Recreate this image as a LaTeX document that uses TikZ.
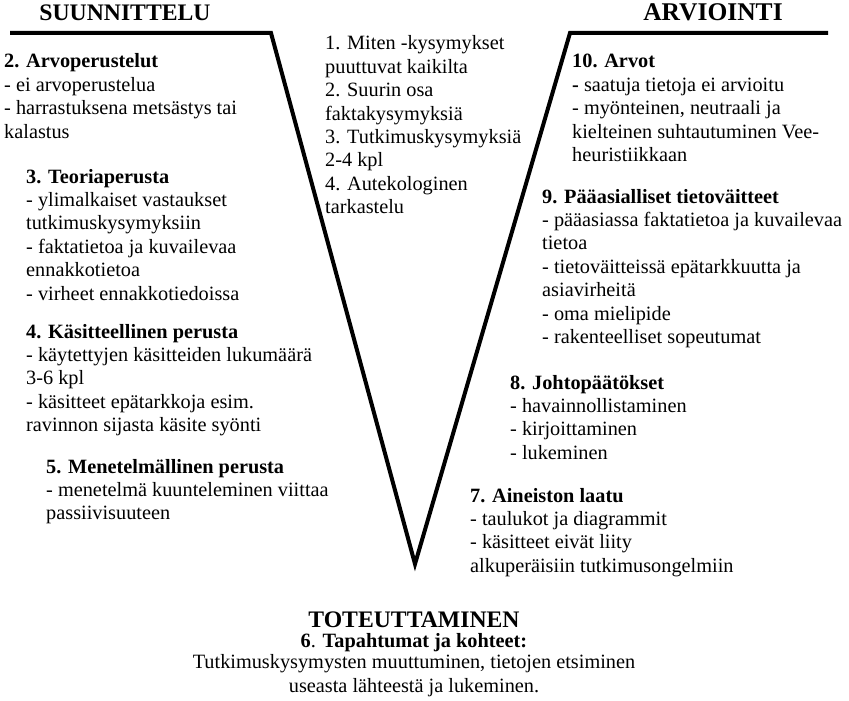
\documentclass[tikz,border=0pt]{standalone}
\usepackage{fontspec}
\setmainfont{Liberation Serif}
% a block of lines whose baseline is that of its first line
\newcommand{\leftblock}[1]{\begin{tabular}[t]{@{}l@{}}#1\end{tabular}}
\newcommand{\midblock}[1]{\begin{tabular}[t]{@{}c@{}}#1\end{tabular}}
\begin{document}
\begin{tikzpicture}[x=1pt,y=-1pt,
  body/.style={anchor=base west, inner sep=0pt,
    font=\fontsize{20.3}{23.4}\selectfont},
  bodyc/.style={anchor=base, inner sep=0pt,
    font=\fontsize{20.3}{23.4}\selectfont},
  head/.style={anchor=base, inner sep=0pt,
    font=\fontsize{23.7}{26}\selectfont\bfseries},
  vline/.style={line width=4pt, line join=miter}]
\useasboundingbox (0,0) rectangle (849,701);

% the V outline
\coordinate (pl) at (10,33);
\coordinate (pc) at (271,33);
\coordinate (apex) at (415,564);
\coordinate (ac) at (570,33);
\coordinate (ar) at (828,33);
\draw[vline] (pl) -- (pc) -- (apex) -- (ac) -- (ar);

% phase headings
\node[head] (suun) at (125,21) {SUUNNITTELU};
\node[head, font=\fontsize{25.5}{28}\selectfont\bfseries] (arvi) at (713,21) {ARVIOINTI};

% planning side
\node[body] (s2) at (4,68) {\leftblock{\textbf{2. Arvoperustelut}\\
- ei arvoperustelua\\
- harrastuksena metsästys tai\\
kalastus}};
\node[body] (s3) at (26,183) {\leftblock{\textbf{3. Teoriaperusta}\\
- ylimalkaiset vastaukset\\
tutkimuskysymyksiin\\
- faktatietoa ja kuvailevaa\\
ennakkotietoa\\
- virheet ennakkotiedoissa}};
\node[body] (s4) at (26,338) {\leftblock{\textbf{4. Käsitteellinen perusta}\\
- käytettyjen käsitteiden lukumäärä\\
3-6 kpl\\
- käsitteet epätarkkoja esim.\\
ravinnon sijasta käsite syönti}};
\node[body] (s5) at (46,473) {\leftblock{\textbf{5. Menetelmällinen perusta}\\
- menetelmä kuunteleminen viittaa\\
passiivisuuteen}};

% questions inside the V
\node[body] (s1) at (325,50) {\leftblock{1. Miten -kysymykset\\
puuttuvat kaikilta\\
2. Suurin osa\\
faktakysymyksiä\\
3. Tutkimuskysymyksiä\\
2-4 kpl\\
4. Autekologinen\\
tarkastelu}};

% evaluation side
\node[body] (s10) at (572,68) {\leftblock{\textbf{10. Arvot}\\
\textbf{-} saatuja tietoja ei arvioitu\\
- myönteinen, neutraali ja\\
kielteinen suhtautuminen Vee-\\
heuristiikkaan}};
\node[body] (s9) at (542,203) {\leftblock{\textbf{9. Pääasialliset tietoväitteet}\\
- pääasiassa faktatietoa ja kuvailevaa\\
tietoa\\
- tietoväitteissä epätarkkuutta ja\\
asiavirheitä\\
- oma mielipide\\
- rakenteelliset sopeutumat}};
\node[body] (s8) at (510,389) {\leftblock{\textbf{8. Johtopäätökset}\\
- havainnollistaminen\\
- kirjoittaminen\\
- lukeminen}};
\node[body] (s7) at (470,502) {\leftblock{\textbf{7. Aineiston laatu}\\
- taulukot ja diagrammit\\
- käsitteet eivät liity\\
alkuperäisiin tutkimusongelmiin}};

% implementation
\node[head] (tote) at (414,627) {TOTEUTTAMINEN};
\node[bodyc] (s6) at (414,647) {\midblock{\textbf{6}.\textbf{ Tapahtumat ja kohteet:}\\[-1.6pt]
Tutkimuskysymysten muuttuminen, tietojen etsiminen\\
useasta lähteestä ja lukeminen.}};
\end{tikzpicture}
\end{document}
